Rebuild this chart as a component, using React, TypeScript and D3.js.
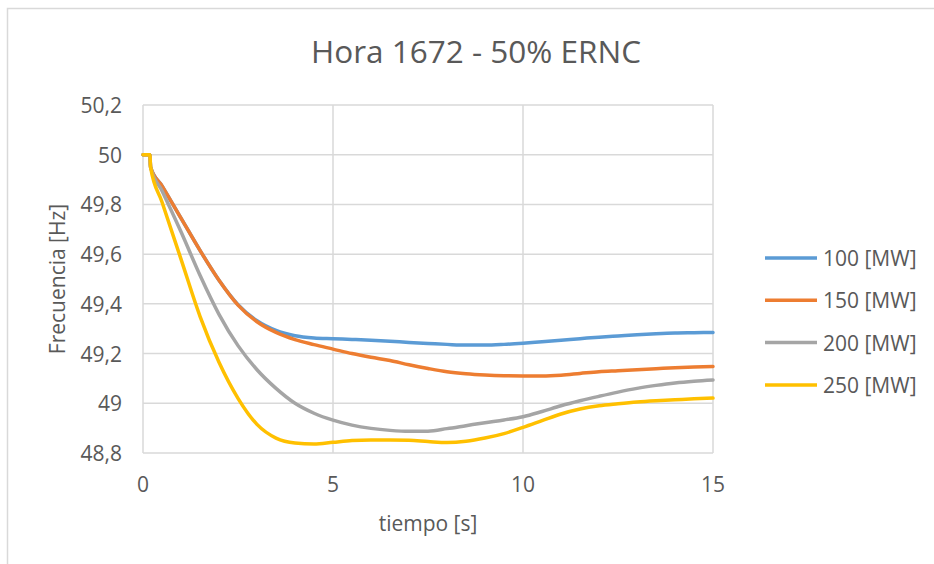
import React from "react";
import * as d3 from "d3";

// Simulation time samples [s]
const tiempo = [0, 0.18, 0.2, 0.5, 1, 1.5, 2, 2.5, 3, 3.5, 4, 4.5, 5, 5.5, 6, 6.5, 7, 7.5, 8, 8.5, 9, 9.5, 10, 10.5, 11, 11.5, 12, 12.5, 13, 13.5, 14, 14.5, 15];

// Frequency response [Hz] for each generation loss
const f100 = [50, 50, 49.95, 49.875, 49.745, 49.615, 49.495, 49.397, 49.332, 49.293, 49.272, 49.263, 49.26, 49.257, 49.254, 49.25, 49.245, 49.241, 49.237, 49.234, 49.234, 49.237, 49.242, 49.248, 49.254, 49.26, 49.266, 49.271, 49.276, 49.28, 49.283, 49.284, 49.285];
const f150 = [50, 50, 49.95, 49.875, 49.745, 49.615, 49.495, 49.395, 49.328, 49.285, 49.256, 49.236, 49.218, 49.2, 49.185, 49.172, 49.155, 49.14, 49.127, 49.119, 49.114, 49.111, 49.11, 49.11, 49.113, 49.12, 49.127, 49.131, 49.135, 49.139, 49.143, 49.146, 49.148];
const f200 = [50, 50, 49.95, 49.855, 49.69, 49.515, 49.358, 49.232, 49.135, 49.06, 49.0, 48.96, 48.932, 48.912, 48.899, 48.891, 48.887, 48.888, 48.898, 48.91, 48.922, 48.933, 48.946, 48.967, 48.99, 49.01, 49.028, 49.045, 49.06, 49.072, 49.082, 49.089, 49.094];
const f250 = [50, 50, 49.95, 49.81, 49.58, 49.35, 49.165, 49.02, 48.915, 48.86, 48.84, 48.836, 48.843, 48.85, 48.852, 48.852, 48.851, 48.846, 48.842, 48.847, 48.86, 48.878, 48.903, 48.93, 48.957, 48.977, 48.99, 48.998, 49.005, 49.01, 49.014, 49.018, 49.021];

const seriesNames = ["100 [MW]", "150 [MW]", "200 [MW]", "250 [MW]"];
const seriesValues = [f100, f150, f200, f250];
const seriesColors = ["#5B9BD5", "#ED7D31", "#A5A5A5", "#FFC000"];

const xTicks = [0, 5, 10, 15];
const yTicks = [48.8, 49, 49.2, 49.4, 49.6, 49.8, 50, 50.2];

const W = 934;
const H = 564;
const plot = { left: 143, right: 713, top: 105, bottom: 453 };
const font = "'Open Sans', 'Noto Sans', sans-serif";
const textColor = "#595959";
const gridColor = "#D9D9D9";

export default function App() {
  const x = d3.scaleLinear().domain([0, 15]).range([plot.left, plot.right]);
  const y = d3.scaleLinear().domain([48.8, 50.2]).range([plot.bottom, plot.top]);

  const line = d3
    .line<[number, number]>()
    .x((d) => x(d[0]))
    .y((d) => y(d[1]))
    .curve(d3.curveMonotoneX);

  const fmt = (v: number) => {
    const s = d3.format("~g")(+v.toFixed(1));
    return s.replace(".", ",");
  };

  return (
    <svg
      width={W}
      height={H}
      style={{ position: "absolute", left: 0, top: 0, background: "#fff" }}
      fontFamily={font}
    >
      <rect x={0} y={0} width={W} height={H} fill="#fff" />
      {/* chart frame */}
      <path d={`M7.5,${H} V8.5 H${W}`} fill="none" stroke={gridColor} strokeWidth={1.5} />

      {/* title */}
      <text x={476} y={50} textAnchor="middle" dominantBaseline="central" fontSize={31.5} fill={textColor}>
        Hora 1672 - 50% ERNC
      </text>

      {/* horizontal gridlines */}
      {yTicks.map((t) => (
        <line key={"gy" + t} x1={plot.left} x2={plot.right} y1={y(t)} y2={y(t)} stroke={gridColor} strokeWidth={1.5} />
      ))}
      {/* vertical gridlines */}
      {xTicks.map((t) => (
        <line key={"gx" + t} x1={x(t)} x2={x(t)} y1={plot.top} y2={plot.bottom} stroke={gridColor} strokeWidth={1.5} />
      ))}

      {/* y tick labels */}
      {yTicks.map((t) => (
        <text key={"ty" + t} x={122} y={y(t)} textAnchor="end" dominantBaseline="central" fontSize={21} fill={textColor}>
          {fmt(t)}
        </text>
      ))}
      {/* x tick labels */}
      {xTicks.map((t) => (
        <text key={"tx" + t} x={x(t)} y={484} textAnchor="middle" dominantBaseline="central" fontSize={21} fill={textColor}>
          {t}
        </text>
      ))}

      {/* axis titles */}
      <text x={428} y={523} textAnchor="middle" dominantBaseline="central" fontSize={21} fill={textColor}>
        tiempo [s]
      </text>
      <text
        transform={`translate(57,${(plot.top + plot.bottom) / 2}) rotate(-90)`}
        textAnchor="middle"
        dominantBaseline="central"
        fontSize={21}
        fill={textColor}
      >
        Frecuencia [Hz]
      </text>

      {/* series */}
      {seriesValues.map((vals, i) => (
        <path
          key={seriesNames[i]}
          d={line(tiempo.map((t, k) => [t, vals[k]] as [number, number])) || ""}
          fill="none"
          stroke={seriesColors[i]}
          strokeWidth={3.5}
          strokeLinejoin="round"
          strokeLinecap="round"
        />
      ))}

      {/* legend */}
      {seriesNames.map((name, i) => {
        const ly = 258 + i * 42.3;
        return (
          <g key={"lg" + name}>
            <line x1={765} x2={817} y1={ly} y2={ly} stroke={seriesColors[i]} strokeWidth={3.5} />
            <text x={823} y={ly} dominantBaseline="central" fontSize={21} fill={textColor}>
              {name}
            </text>
          </g>
        );
      })}
    </svg>
  );
}
